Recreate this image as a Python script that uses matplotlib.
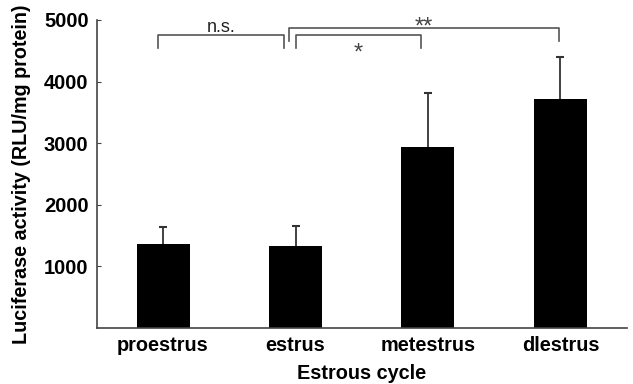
import matplotlib
matplotlib.use("Agg")
import matplotlib.pyplot as plt
import numpy as np

plt.rcParams["font.family"] = ["Liberation Sans", "DejaVu Sans"]

# ── Data ───────────────────────────────────────────────────────────────────
stages = ["proestrus", "estrus", "metestrus", "dlestrus"]
activity = [1360, 1330, 2940, 3720]
err_upper = [280, 320, 870, 680]
y_ticks = [1000, 2000, 3000, 4000, 5000]

# significance brackets: (x_start, x_end, y_line, leg_drop, label, label_y)
brackets = [
    (-0.04, 0.91, 4756, 210, "n.s.", 4880),
    (0.95, 2.99, 4870, 210, "**", 4880),
    (1.00, 1.95, 4756, 210, "*", 4450),
]

fig = plt.figure(figsize=(6.33, 3.84), dpi=100)
ax = fig.add_axes([0.153, 0.146, 0.837, 0.802])

x = np.arange(len(stages))
ax.bar(x, activity, width=0.4, color="black", zorder=2)
tops = np.array(activity) + np.array(err_upper)
ax.vlines(x, activity, tops, color="#333333", linewidth=1.3, zorder=1)
ax.plot(x, tops, linestyle="none", marker="_", markersize=6,
        markeredgewidth=1.5, color="#333333", zorder=1)

line_col = "#555555"
for x0, x1, y, drop, label, ly in brackets:
    ax.plot([x0, x0, x1, x1], [y - drop, y, y, y - drop], color=line_col,
            linewidth=1.2, clip_on=False)
    is_star = "*" in label
    ax.text((x0 + x1) / 2, ly, label, ha="center", va="center",
            fontsize=17 if is_star else 13,
            color="#444444" if is_star else "#222222", clip_on=False)

ax.set_xlim(-0.5, 3.5)
ax.set_ylim(0, 5000)
ax.set_yticks(y_ticks)
ax.set_yticklabels([str(v) for v in y_ticks], fontsize=14.5, fontweight="bold")
ax.set_xticks(x)
ax.set_xticklabels(stages, fontsize=14.3, fontweight="bold")
ax.tick_params(axis="y", direction="in", length=3, color="#444444", pad=6)
ax.tick_params(axis="x", length=0, pad=6)

for side in ["top", "right"]:
    ax.spines[side].set_visible(False)
for side in ["left", "bottom"]:
    ax.spines[side].set_color("#444444")
    ax.spines[side].set_linewidth(1.2)

ax.set_ylabel("Luciferase activity (RLU/mg protein)", fontsize=14.2,
              fontweight="bold", labelpad=9)
ax.set_xlabel("Estrous cycle", fontsize=14.3, fontweight="bold", labelpad=6)

fig.savefig("out.png", dpi=100)
